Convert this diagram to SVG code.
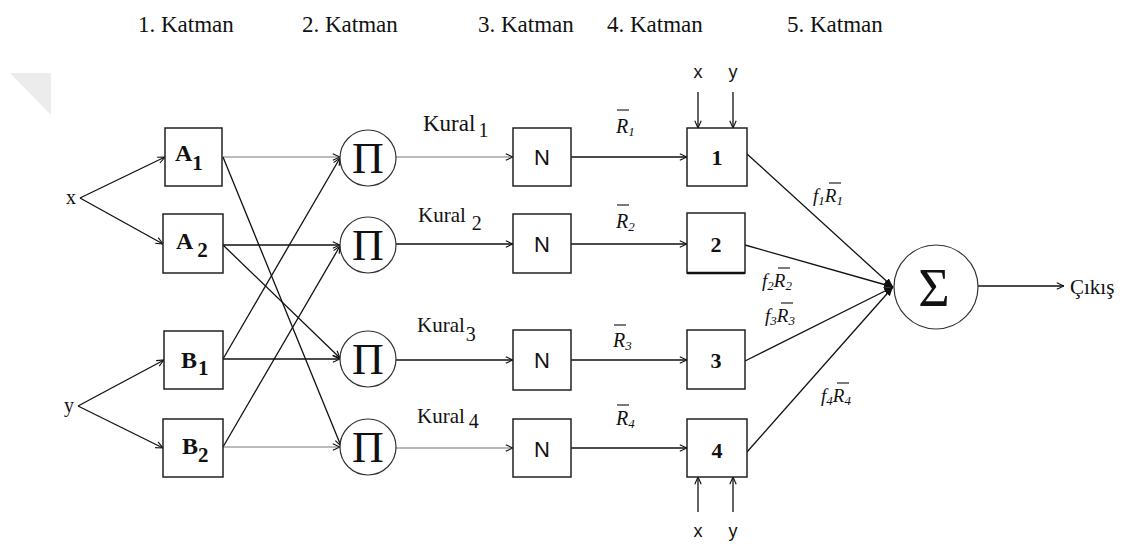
<svg xmlns="http://www.w3.org/2000/svg" width="1127" height="550" viewBox="0 0 1127 550">
  <style>
    .hdr, .lbl { font-family: "Liberation Serif", "DejaVu Serif", serif; font-weight: normal; fill: #111; }
    .bold { font-family: "Liberation Serif", "DejaVu Serif", serif; font-weight: bold; fill: #111; }
    .sans { font-family: "Liberation Sans", "DejaVu Sans", sans-serif; fill: #111; }
    .ital { font-family: "Liberation Serif", "DejaVu Serif", serif; font-style: italic; fill: #111; }
    .box { fill: #fff; stroke: #222; stroke-width: 1.5; }
    .circ { fill: #fff; stroke: #333; stroke-width: 1.2; }
    .ln { fill: none; stroke: #111; stroke-width: 1.3; }
    .lg { fill: none; stroke: #777; stroke-width: 1.1; }
    .ov { stroke: #222; stroke-width: 1.2; }
  </style>
  <defs>
    <marker id="arr" viewBox="0 0 10 10" refX="10" refY="5" markerWidth="8" markerHeight="8" orient="auto" markerUnits="userSpaceOnUse">
      <path d="M1,1 L10,5 L1,9" fill="none" stroke="#111" stroke-width="1.4"/>
    </marker>
    <marker id="arrf" viewBox="0 0 10 10" refX="10" refY="5" markerWidth="9" markerHeight="9" orient="auto" markerUnits="userSpaceOnUse">
      <path d="M0,1 L10,5 L0,9 Z" fill="#111"/>
    </marker>
  </defs>

  <rect width="1127" height="550" fill="#fff"/>
  <!-- faint corner mark -->
  <polygon points="10,73 51,73 51,115" fill="#ececec"/>

  <!-- layer headings -->
  <g id="headings">
    <text class="hdr" x="138" y="32" font-size="23">1. Katman</text>
    <text class="hdr" x="302" y="32" font-size="23">2. Katman</text>
    <text class="hdr" x="478" y="32" font-size="23">3. Katman</text>
    <text class="hdr" x="607" y="32" font-size="23">4. Katman</text>
    <text class="hdr" x="787" y="32" font-size="23">5. Katman</text>
  </g>

  <!-- connectors -->
  <g id="connectors">
    <!-- inputs to layer 1 -->
    <line class="ln" x1="80" y1="198" x2="165" y2="157" marker-end="url(#arr)"/>
    <line class="ln" x1="80" y1="198" x2="163" y2="244" marker-end="url(#arr)"/>
    <line class="ln" x1="78" y1="406" x2="164" y2="360" marker-end="url(#arr)"/>
    <line class="ln" x1="78" y1="406" x2="163" y2="448" marker-end="url(#arr)"/>
    <!-- layer 1 to layer 2 -->
    <line class="lg" x1="223" y1="157" x2="340" y2="157" marker-end="url(#arr)"/>
    <line class="ln" x1="223" y1="157" x2="341" y2="446" marker-end="url(#arr)"/>
    <line class="ln" x1="223" y1="245" x2="340" y2="245" marker-end="url(#arr)"/>
    <line class="ln" x1="223" y1="245" x2="340" y2="358" marker-end="url(#arr)"/>
    <line class="ln" x1="223" y1="359" x2="340" y2="158" marker-end="url(#arr)"/>
    <line class="ln" x1="223" y1="359" x2="340" y2="359" marker-end="url(#arr)"/>
    <line class="ln" x1="223" y1="447" x2="340" y2="246" marker-end="url(#arr)"/>
    <line class="lg" x1="223" y1="447" x2="340" y2="447" marker-end="url(#arr)"/>
    <!-- layer 2 to layer 3 -->
    <line class="lg" x1="396" y1="157" x2="513" y2="157" marker-end="url(#arr)"/>
    <line class="ln" x1="396" y1="244" x2="513" y2="244" marker-end="url(#arr)"/>
    <line class="ln" x1="396" y1="360" x2="513" y2="360" marker-end="url(#arr)"/>
    <line class="lg" x1="396" y1="448" x2="513" y2="448" marker-end="url(#arr)"/>
    <!-- layer 3 to layer 4 -->
    <line class="ln" x1="571" y1="157" x2="687" y2="157" marker-end="url(#arr)"/>
    <line class="ln" x1="571" y1="244" x2="687" y2="244" marker-end="url(#arr)"/>
    <line class="ln" x1="571" y1="360" x2="687" y2="360" marker-end="url(#arr)"/>
    <line class="ln" x1="571" y1="448" x2="687" y2="448" marker-end="url(#arr)"/>
    <!-- x, y feeds into layer 4 -->
    <line class="ln" x1="698" y1="92" x2="698" y2="128" marker-end="url(#arr)"/>
    <line class="ln" x1="733" y1="92" x2="733" y2="128" marker-end="url(#arr)"/>
    <line class="ln" x1="698" y1="512" x2="698" y2="477" marker-end="url(#arr)"/>
    <line class="ln" x1="733" y1="512" x2="733" y2="477" marker-end="url(#arr)"/>
    <!-- layer 4 to sum -->
    <line class="ln" x1="747" y1="154" x2="893" y2="287" marker-end="url(#arrf)"/>
    <line class="ln" x1="745" y1="245" x2="893" y2="287" marker-end="url(#arrf)"/>
    <line class="ln" x1="745" y1="361" x2="893" y2="287" marker-end="url(#arrf)"/>
    <line class="ln" x1="747" y1="452" x2="893" y2="287" marker-end="url(#arrf)"/>
    <!-- output -->
    <line class="ln" x1="978" y1="286" x2="1064" y2="286" marker-end="url(#arr)"/>
  </g>

  <!-- inputs -->
  <g id="in-x"><text class="lbl" x="66" y="204" font-size="20">x</text></g>
  <g id="in-y"><text class="lbl" x="64" y="412" font-size="20">y</text></g>

  <!-- layer 1: membership -->
  <g id="A1">
    <rect class="box" x="165" y="128" width="57" height="58"/>
    <text class="bold" x="175" y="161" font-size="24">A<tspan font-size="21" dy="9">1</tspan></text>
  </g>
  <g id="A2">
    <rect class="box" x="163" y="214" width="60" height="59"/>
    <text class="bold" x="176" y="249" font-size="24">A<tspan font-size="21" dy="8" dx="4">2</tspan></text>
  </g>
  <g id="B1">
    <rect class="box" x="164" y="331" width="59" height="58"/>
    <text class="bold" x="181" y="368" font-size="24">B<tspan font-size="21" dy="7" dx="1">1</tspan></text>
  </g>
  <g id="B2">
    <rect class="box" x="163" y="419" width="60" height="58"/>
    <text class="bold" x="182" y="454" font-size="24">B<tspan font-size="21" dy="8" dx="0">2</tspan></text>
  </g>

  <!-- layer 2: product -->
  <g id="P1">
    <circle class="circ" cx="368" cy="158" r="28"/>
    <text class="lbl" x="368" y="173" font-size="44" text-anchor="middle">Π</text>
  </g>
  <g id="P2">
    <circle class="circ" cx="368" cy="245" r="28"/>
    <text class="lbl" x="368" y="260" font-size="44" text-anchor="middle">Π</text>
  </g>
  <g id="P3">
    <circle class="circ" cx="368" cy="359" r="28"/>
    <text class="lbl" x="368" y="374" font-size="44" text-anchor="middle">Π</text>
  </g>
  <g id="P4">
    <circle class="circ" cx="368" cy="447" r="28"/>
    <text class="lbl" x="368" y="462" font-size="44" text-anchor="middle">Π</text>
  </g>

  <!-- rule labels -->
  <g id="rule-labels">
    <text class="lbl" x="423" y="131" font-size="23">Kural<tspan dx="3" dy="6" font-size="20">1</tspan></text>
    <text class="lbl" x="418" y="222" font-size="21">Kural<tspan dx="6" dy="8" font-size="20">2</tspan></text>
    <text class="lbl" x="417" y="332" font-size="21">Kural<tspan dx="1" dy="9" font-size="20">3</tspan></text>
    <text class="lbl" x="417" y="423" font-size="21">Kural<tspan dx="4" dy="5" font-size="20">4</tspan></text>
  </g>

  <!-- layer 3: normalisation -->
  <g id="N1">
    <rect class="box" x="513" y="128" width="58" height="58"/>
    <text class="sans" x="542" y="165" font-size="22" text-anchor="middle">N</text>
  </g>
  <g id="N2">
    <rect class="box" x="513" y="214" width="58" height="59"/>
    <text class="sans" x="542" y="252" font-size="22" text-anchor="middle">N</text>
  </g>
  <g id="N3">
    <rect class="box" x="513" y="330" width="58" height="60"/>
    <text class="sans" x="542" y="368" font-size="22" text-anchor="middle">N</text>
  </g>
  <g id="N4">
    <rect class="box" x="513" y="419" width="58" height="58"/>
    <text class="sans" x="542" y="457" font-size="22" text-anchor="middle">N</text>
  </g>

  <!-- normalised firing strengths -->
  <g id="rbar-labels">
    <text class="ital" x="616" y="133" font-size="20">R<tspan font-size="13" dy="3">1</tspan></text>
    <line class="ov" x1="617" y1="110" x2="629" y2="110"/>
    <text class="ital" x="616" y="228" font-size="20">R<tspan font-size="13" dy="3">2</tspan></text>
    <line class="ov" x1="617" y1="205" x2="629" y2="205"/>
    <text class="ital" x="613" y="347" font-size="20">R<tspan font-size="13" dy="3">3</tspan></text>
    <line class="ov" x1="614" y1="325" x2="626" y2="325"/>
    <text class="ital" x="616" y="425" font-size="20">R<tspan font-size="13" dy="3">4</tspan></text>
    <line class="ov" x1="617" y1="405" x2="629" y2="405"/>
  </g>

  <!-- layer 4: consequents -->
  <g id="C1">
    <rect class="box" x="687" y="128" width="60" height="58"/>
    <text class="bold" x="717" y="165" font-size="22" text-anchor="middle">1</text>
    <text class="sans" x="698" y="78" font-size="18" text-anchor="middle">x</text>
    <text class="sans" x="733" y="78" font-size="18" text-anchor="middle">y</text>
  </g>
  <g id="C2">
    <rect class="box" x="687" y="213" width="58" height="60"/>
    <line x1="687" y1="273" x2="745" y2="273" stroke="#111" stroke-width="2.5"/>
    <text class="bold" x="716" y="252" font-size="22" text-anchor="middle">2</text>
  </g>
  <g id="C3">
    <rect class="box" x="687" y="330" width="58" height="59"/>
    <text class="bold" x="716" y="368" font-size="22" text-anchor="middle">3</text>
  </g>
  <g id="C4">
    <rect class="box" x="687" y="419" width="60" height="58"/>
    <text class="bold" x="717" y="458" font-size="22" text-anchor="middle">4</text>
    <text class="sans" x="698" y="537" font-size="18" text-anchor="middle">x</text>
    <text class="sans" x="733" y="537" font-size="18" text-anchor="middle">y</text>
  </g>

  <!-- weighted outputs -->
  <g id="f-labels">
    <text class="ital" x="813" y="202" font-size="19">f<tspan font-size="13" dy="3">1</tspan><tspan dy="-3">R</tspan><tspan font-size="13" dy="3">1</tspan></text>
    <line class="ov" x1="829" y1="183" x2="841" y2="183"/>
    <text class="ital" x="762" y="287" font-size="19">f<tspan font-size="13" dy="3">2</tspan><tspan dy="-3">R</tspan><tspan font-size="13" dy="3">2</tspan></text>
    <line class="ov" x1="778" y1="268" x2="790" y2="268"/>
    <text class="ital" x="765" y="322" font-size="19">f<tspan font-size="13" dy="3">3</tspan><tspan dy="-3">R</tspan><tspan font-size="13" dy="3">3</tspan></text>
    <line class="ov" x1="781" y1="303" x2="793" y2="303"/>
    <text class="ital" x="821" y="402" font-size="19">f<tspan font-size="13" dy="3">4</tspan><tspan dy="-3">R</tspan><tspan font-size="13" dy="3">4</tspan></text>
    <line class="ov" x1="837" y1="383" x2="849" y2="383"/>
  </g>

  <!-- layer 5: sum -->
  <g id="S">
    <circle class="circ" cx="936" cy="287" r="42"/>
    <text class="lbl" x="934" y="306" font-size="54" text-anchor="middle">Σ</text>
  </g>

  <g id="out"><text class="lbl" x="1070" y="294" font-size="21">Çıkış</text></g>
</svg>
